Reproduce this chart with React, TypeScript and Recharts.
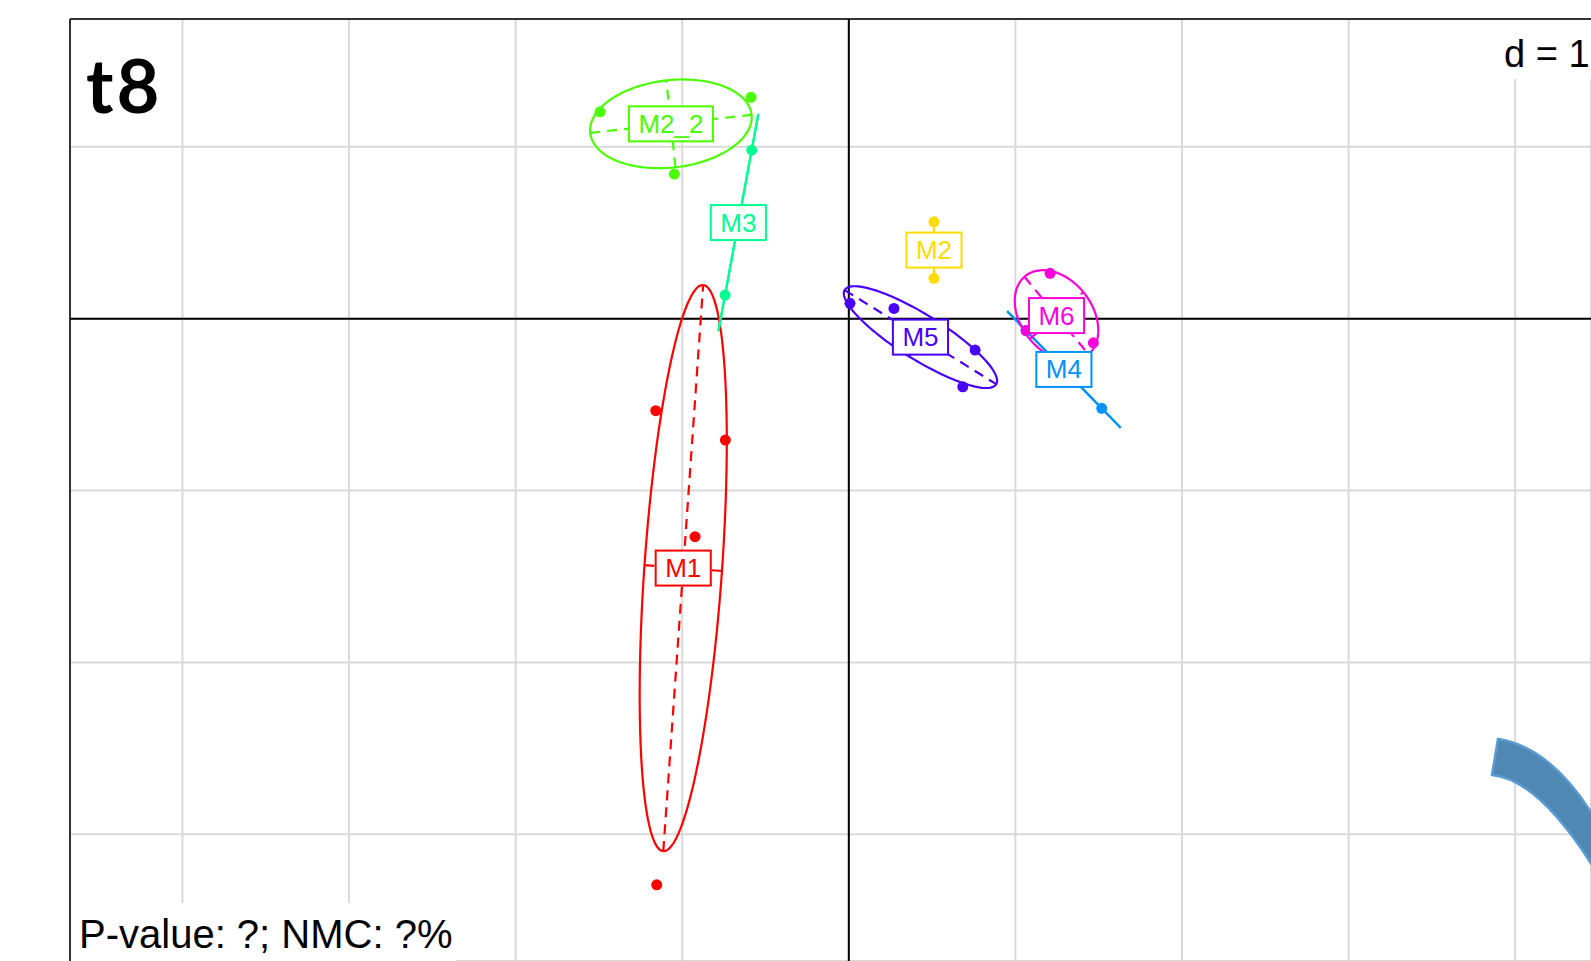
import React from "react";
import { ScatterChart, Scatter, XAxis, YAxis, CartesianGrid, ReferenceLine, Customized } from "recharts";

const W = 1591;
const H = 961;

// visible window of the plot, in data units (grid step d = 1)
const X_DOMAIN: [number, number] = [-4.675, 4.455];
const Y_DOMAIN: [number, number] = [-3.737, 1.744];
const GRID_X = [-4, -3, -2, -1, 0, 1, 2, 3, 4];
const GRID_Y = [-3, -2, -1, 0, 1];

const CLASSES = ["M1", "M2", "M2_2", "M3", "M4", "M5", "M6"];
const COLORS = ["#FF0000", "#FFDB00", "#49FF00", "#00FF92", "#0092FF", "#4900FF", "#FF00DB"];

const M1_X = [-1.159, -0.741, -0.923, -1.153];
const M1_Y = [-0.535, -0.706, -1.268, -3.294];
const M2_X = [0.511, 0.511];
const M2_Y = [0.564, 0.235];
const M2_2_X = [-1.493, -0.587, -1.047, -1.145];
const M2_2_Y = [1.204, 1.288, 0.842, 1.202];
const M3_X = [-0.583, -0.743];
const M3_Y = [0.981, 0.138];
const M4_X = [1.064, 1.518];
const M4_Y = [-0.069, -0.521];
const M5_X = [0.007, 0.271, 0.758, 0.684];
const M5_Y = [0.09, 0.06, -0.182, -0.396];
const M6_X = [1.208, 1.064, 1.468];
const M6_Y = [0.264, -0.069, -0.14];

const CLASS_X = [M1_X, M2_X, M2_2_X, M3_X, M4_X, M5_X, M6_X];
const CLASS_Y = [M1_Y, M2_Y, M2_2_Y, M3_Y, M4_Y, M5_Y, M6_Y];

const CELLIPSE = 1.5;
const LABEL_FONT = "'Liberation Sans', Arial, sans-serif";

type Pt = { x: number; y: number };

function classStats(xs: number[], ys: number[]) {
  const n = xs.length;
  const mx = xs.reduce((a, b) => a + b, 0) / n;
  const my = ys.reduce((a, b) => a + b, 0) / n;
  let vx = 0, vy = 0, cxy = 0;
  for (let i = 0; i < n; i++) {
    vx += (xs[i] - mx) ** 2 / n;
    vy += (ys[i] - my) ** 2 / n;
    cxy += (xs[i] - mx) * (ys[i] - my) / n;
  }
  return { mx, my, vx, vy, cxy };
}

function ellipseParts(xs: number[], ys: number[]) {
  const s = classStats(xs, ys);
  const delta = Math.sqrt((s.vx - s.vy) ** 2 + 4 * s.cxy ** 2);
  const l1 = Math.sqrt(Math.max((s.vx + s.vy + delta) / 2, 0)) * CELLIPSE;
  const l2 = Math.sqrt(Math.max((s.vx + s.vy - delta) / 2, 0)) * CELLIPSE;
  const a = 0.5 * Math.atan2(2 * s.cxy, s.vx - s.vy);
  const u = [Math.cos(a), Math.sin(a)];
  const v = [-Math.sin(a), Math.cos(a)];
  const curve: Pt[] = [];
  for (let i = 0; i <= 120; i++) {
    const t = (i / 120) * Math.PI * 2;
    curve.push({
      x: s.mx + l1 * Math.cos(t) * u[0] + l2 * Math.sin(t) * v[0],
      y: s.my + l1 * Math.cos(t) * u[1] + l2 * Math.sin(t) * v[1],
    });
  }
  const major: Pt[] = [
    { x: s.mx - l1 * u[0], y: s.my - l1 * u[1] },
    { x: s.mx + l1 * u[0], y: s.my + l1 * u[1] },
  ];
  const minor: Pt[] = [
    { x: s.mx - l2 * v[0], y: s.my - l2 * v[1] },
    { x: s.mx + l2 * v[0], y: s.my + l2 * v[1] },
  ];
  return { s, curve, major, minor, flat: l2 < 1e-6, vertical: s.vx < 1e-9 };
}

let ctx: CanvasRenderingContext2D | null = null;
function textWidth(t: string) {
  if (!ctx) ctx = document.createElement("canvas").getContext("2d");
  if (!ctx) return t.length * 15;
  ctx.font = `26px ${LABEL_FONT}`;
  return ctx.measureText(t).width;
}

const noShape = () => <g />;

const Dot = (color: string) => (p: any) => <circle cx={p.cx} cy={p.cy} r={5.5} fill={color} />;

const LabelBox = (p: any) => {
  const { cx, cy, payload } = p;
  const w = textWidth(payload.name) + 19;
  const h = 35;
  return (
    <g>
      <rect x={cx - w / 2} y={cy - h / 2} width={w} height={h} fill="#fff" stroke={payload.color} strokeWidth={2} />
      <text x={cx} y={cy + 9} textAnchor="middle" fill={payload.color} fontSize={26} fontFamily={LABEL_FONT}>
        {payload.name}
      </text>
    </g>
  );
};

const Overlay = () => (
  <g>
    <text x={86} y={113} fontSize={74} fontWeight={700} letterSpacing={3} fontFamily="Lato, 'Open Sans', sans-serif" fill="#000">
      t8
    </text>
    <rect x={1496} y={20} width={120} height={59} fill="#fff" />
    <text x={1504} y={67} fontSize={38} fontFamily={LABEL_FONT} fill="#000">
      d = 1
    </text>
    <rect x={71} y={903} width={385} height={70} fill="#fff" />
    <text x={79} y={948} fontSize={40} fontFamily={LABEL_FONT} fill="#000">
      P-value: ?; NMC: ?%
    </text>
    <path
      d="M1498,739 Q1560,748 1610,845 L1610,895 Q1545,780 1492,775 Z"
      fill="#4f88b3"
      stroke="#5b9bd5"
      strokeWidth={2.5}
    />
  </g>
);

export default function App() {
  const parts = CLASSES.map((_, i) => ellipseParts(CLASS_X[i], CLASS_Y[i]));
  const labels = CLASSES.map((name, i) => ({ x: parts[i].s.mx, y: parts[i].s.my, name, color: COLORS[i] }));

  return (
    <div style={{ position: "absolute", left: 0, top: 0, width: W, height: H, overflow: "hidden", background: "#fff" }}>
      <ScatterChart width={W} height={H} margin={{ top: 19, left: 70, right: 0, bottom: 0 }}>
        <XAxis type="number" dataKey="x" domain={X_DOMAIN} ticks={GRID_X} hide allowDataOverflow />
        <YAxis type="number" dataKey="y" domain={Y_DOMAIN} ticks={GRID_Y} hide allowDataOverflow />
        <CartesianGrid stroke="#d9d9d9" strokeWidth={2} />
        <ReferenceLine x={X_DOMAIN[0]} stroke="#333" strokeWidth={2} />
        <ReferenceLine y={Y_DOMAIN[1]} stroke="#333" strokeWidth={2} />

        {/* axes through the origin */}
        <Scatter
          data={[{ x: X_DOMAIN[0], y: 0 }, { x: X_DOMAIN[1], y: 0 }]}
          line={{ stroke: "#000", strokeWidth: 2 }}
          shape={noShape}
          isAnimationActive={false}
        />
        <Scatter
          data={[{ x: 0, y: Y_DOMAIN[0] }, { x: 0, y: Y_DOMAIN[1] }]}
          line={{ stroke: "#000", strokeWidth: 2 }}
          shape={noShape}
          isAnimationActive={false}
        />

        {/* ellipses and their axes (a vertical two-point class gets its star instead) */}
        {parts.map((p, i) =>
          p.vertical ? (
            CLASS_X[i].map((x, j) => (
              <Scatter
                key={`star-${i}-${j}`}
                data={[{ x: p.s.mx, y: p.s.my }, { x, y: CLASS_Y[i][j] }]}
                line={{ stroke: COLORS[i], strokeWidth: 2.2 }}
                shape={noShape}
                isAnimationActive={false}
              />
            ))
          ) : (
            <React.Fragment key={`ell-${i}`}>
              <Scatter
                data={p.curve}
                line={{ stroke: COLORS[i], strokeWidth: 2.2 }}
                shape={noShape}
                isAnimationActive={false}
              />
              <Scatter
                data={p.major}
                line={{ stroke: COLORS[i], strokeWidth: 2.2, strokeDasharray: p.flat ? undefined : "10 7" }}
                shape={noShape}
                isAnimationActive={false}
              />
              {!p.flat && (
                <Scatter
                  data={p.minor}
                  line={{ stroke: COLORS[i], strokeWidth: 2.2, strokeDasharray: "10 7" }}
                  shape={noShape}
                  isAnimationActive={false}
                />
              )}
            </React.Fragment>
          )
        )}

        {CLASSES.map((_, i) => (
          <Scatter
            key={`pts-${i}`}
            data={CLASS_X[i].map((x, j) => ({ x, y: CLASS_Y[i][j] }))}
            shape={Dot(COLORS[i])}
            isAnimationActive={false}
          />
        ))}

        <Scatter data={labels} shape={LabelBox} isAnimationActive={false} />
        <Customized component={Overlay} />
      </ScatterChart>
    </div>
  );
}
